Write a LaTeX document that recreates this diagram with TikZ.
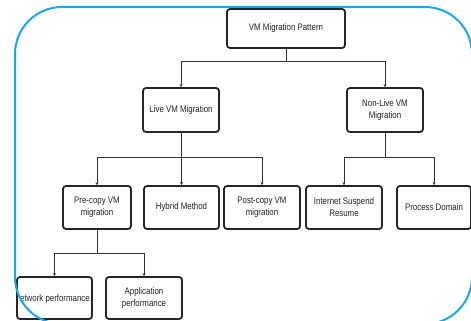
\documentclass[tikz,border=0pt]{standalone}
\usepackage{fontspec}
\setmainfont[FakeStretch=0.83]{Liberation Sans}
\usetikzlibrary{arrows.meta}
\definecolor{frameblue}{HTML}{1AA8E8}
\definecolor{txtgray}{HTML}{222222}
\tikzset{
  bx/.style={draw=black!85, line width=1.8pt, rounded corners=3pt, fill=white,
    align=center, text=txtgray, inner sep=1pt,
    font=\fontsize{9.5}{12}\selectfont},
  conn/.style={draw=black!80, line width=1pt, -{Stealth[length=3pt,width=3pt]}},
}
\begin{document}
\begin{tikzpicture}[x=1pt,y=-1pt]
\useasboundingbox (0,0) rectangle (471,321);
\fill[white] (0,0) rectangle (471,321);
% nodes
\node[bx, minimum width=118pt, minimum height=39pt] (root) at (286,28.5) {VM Migration Pattern};
\node[bx, minimum width=76pt, minimum height=44pt] (live) at (181,110) {Live VM Migration};
\node[bx, minimum width=76pt, minimum height=44pt] (nonlive) at (385,110) {Non-Live VM\\Migration};
\node[bx, minimum width=68pt, minimum height=43pt] (pre) at (97,207.5) {Pre-copy VM\\migration};
\node[bx, minimum width=75pt, minimum height=43pt] (hyb) at (181.5,207.5) {Hybrid Method};
\node[bx, minimum width=76pt, minimum height=43pt] (post) at (262,207.5) {Post-copy VM\\migration};
\node[bx, minimum width=76pt, minimum height=43pt] (inet) at (344,207.5) {Internet Suspend\\Resume};
\node[bx, minimum width=74pt, minimum height=43pt] (proc) at (434,207.5) {Process Domain};
\node[bx, minimum width=75pt, minimum height=42pt] (net) at (54.5,298) {};
\node[bx, minimum width=76pt, minimum height=42pt] (app) at (144,298) {Application\\performance};
\begin{scope}
  \clip (20,278) rectangle (92,318);
  \node[anchor=east, text=txtgray, inner sep=0pt, font=\fontsize{9.5}{12}\selectfont] (nettext) at (90,299) {Network performance};
\end{scope}
% connectors
\draw[conn] (root.south) -- ++(0,13) -| (live.north);
\draw[conn] (root.south) -- ++(0,13) -| (nonlive.north);
\draw[conn] (live.south) -- ++(0,25) -| (pre.north);
\draw[conn] (live.south) -- ++(0,25) -| (hyb.north);
\draw[conn] (live.south) -- ++(0,25) -| (post.north);
\draw[conn] (nonlive.south) -- ++(0,25) -| (inet.north);
\draw[conn] (nonlive.south) -- ++(0,25) -| (proc.north);
\draw[conn] (pre.south) -- ++(0,24) -| (net.north);
\draw[conn] (pre.south) -- ++(0,24) -| (app.north);
% frame
\draw[frameblue, line width=2pt, rounded corners=47pt] (15,7) rectangle (472,324);
\end{tikzpicture}
\end{document}
